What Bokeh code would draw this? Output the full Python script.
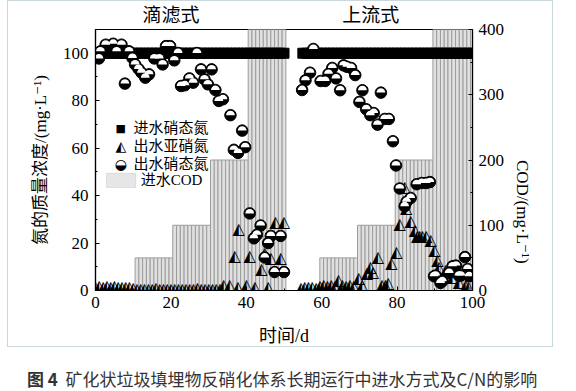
import math
from bokeh.plotting import figure
from bokeh.models import Range1d, LinearAxis, FixedTicker, Label, BoxAnnotation, ColumnDataSource, Div
from bokeh.layouts import column
from bokeh.embed import file_html
from bokeh.resources import INLINE
from bokeh.core.properties import value

# ---------------- data ----------------
x_ticks = [0, 20, 40, 60, 80, 100]
x_minor = [10, 30, 50, 70, 90]
n_ticks = [0, 20, 40, 60, 80, 100]
n_minor = [10, 30, 50, 70, 90]
cod_ticks = [0, 100, 200, 300, 400]
cod_minor = [50, 150, 250, 350]

# influent nitrate (mg/L)
in_day = [0, 1, 2, 3, 4, 5, 6, 7, 8, 9, 10, 11, 12, 13, 14, 15, 16, 17, 18, 19, 20,
          21, 22, 23, 24, 25, 26, 27, 28, 29, 30, 31, 32, 33, 34, 35, 36, 37, 38, 39, 40,
          41, 42, 43, 44, 45, 46, 47, 48, 49, 50,
          55, 56, 57, 58, 59, 60, 61, 62, 63, 64, 65, 66, 67, 68, 69, 70, 71, 72, 73, 74,
          75, 76, 77, 78, 79, 80, 81, 82, 83, 84, 85, 86, 87, 88, 89, 90, 91, 92, 93, 94,
          95, 96, 97, 98, 99, 100]
in_no3 = [100, 100, 100, 100, 100, 100, 100, 100, 100, 100, 100, 100, 100, 100, 100, 100, 100, 100, 100, 100, 100,
          100, 100, 100, 100, 100, 100, 100, 100, 100, 100, 100, 100, 100, 100, 100, 100, 100, 100, 100, 100,
          100, 100, 100, 100, 100, 100, 100, 100, 100, 100,
          100, 100, 100, 100, 100, 100, 100, 100, 100, 100, 100, 100, 100, 100, 100, 100, 100, 100, 100, 100,
          100, 100, 100, 100, 100, 100, 100, 100, 100, 100, 100, 100, 100, 100, 100, 100, 100, 100, 100, 100,
          100, 100, 100, 100, 100, 100]

# effluent nitrite (mg/L)
no2_day = [0, 1, 2, 3, 4, 5, 6, 7, 8, 9, 10, 11, 12, 13, 14, 15, 16, 17, 18, 19, 20,
           21, 22, 23, 24, 25, 26, 27, 28, 29, 30, 31, 32, 33,
           34.0, 35.6, 36.9, 37.8, 38.0, 40.0, 40.9, 42.3, 44.0, 44.9, 45.8, 46.5, 47.7, 49.1, 50.0,
           54.5, 55.5, 56.5, 57.5, 58.5, 59.5, 60.5, 61.5, 62.5, 63.5, 64.4, 65.5, 66.5, 67.5, 68.5,
           69.8, 70.7, 72.0, 72.9, 73.6, 74.9, 76.0, 76.9, 77.6, 78.5, 79.8, 80.7, 82.0, 82.4, 83.6,
           84.7, 85.3, 86.0, 86.7, 87.7, 88.9, 89.9, 90.7, 91.1, 92.9, 94.7, 96.4, 98.2, 99.0]
no2_val = [1.8, 2.0, 1.6, 2.0, 1.7, 1.9, 1.6, 1.8, 1.5, 1.7, 1.4, 0.9, 1.0, 0.8, 1.0, 0.9, 1.1, 0.8, 1.0, 0.9, 1.0,
           0.8, 1.0, 0.9, 0.8, 1.0, 0.9, 1.1, 0.8, 1.0, 0.9, 1.0, 0.8, 1.0,
           2.5, 2.5, 14.6, 1.8, 26.2, 2.5, 14.6, 1.8, 9.1, 16.0, 1.8, 13.7, 29.0, 13.7, 29.0,
           1.2, 1.5, 1.5, 1.5, 1.2, 2.0, 2.5, 2.0, 2.5, 2.0, 4.6, 2.5, 2.0, 2.5, 2.0,
           5.3, 2.5, 7.4, 10.2, 8.0, 14.4, 2.5, 2.5, 3.2, 11.6, 16.5, 28.3, 43.9, 35.0, 29.7,
           25.5, 23.0, 23.0, 23.0, 23.0, 21.3, 17.4, 13.0, 10.2, 8.8, 6.0, 3.9, 2.5, 1.5]

# effluent nitrate (mg/L)
no3_day = [0.9, 1.3, 2.7, 4.7, 5.6, 6.9, 7.8, 8.9, 9.8, 10.5, 11.4, 12.2, 13.2, 14.2, 15.6,
           16.9, 17.8, 18.7, 19.8, 20.9, 21.9, 22.7, 23.7, 24.9, 25.9, 26.9, 28.0, 28.9, 29.8,
           30.8, 31.8, 32.7, 33.8, 35.8, 36.7, 37.8, 38.9, 39.7,
           40.9, 42.0, 42.8, 43.8, 44.9, 45.8, 46.5, 47.5, 49.1, 50.0,
           54.8, 55.7, 56.9, 57.8, 59.7, 60.9, 61.8, 62.8, 63.8, 64.9, 65.8, 66.7, 67.8, 68.9,
           70.0, 70.8, 71.8, 72.9, 73.8, 74.8, 75.7, 76.7, 77.8, 78.9, 79.7, 80.7, 82.0, 82.5,
           83.6, 85.2, 86.5, 87.7, 88.7,
           89.8, 90.2, 91.5, 92.0, 93.8, 94.7, 95.6, 96.4, 96.9, 98.0, 98.7, 99.1]
no3_val = [97.8, 100.8, 103.6, 104.0, 100.8, 103.6, 87.2, 100.8, 98.0, 95.3, 93.4, 91.8, 89.7, 91.1, 97.8,
           97.8, 95.3, 103.0, 103.0, 97.0, 100.1, 86.2, 86.5, 89.4, 87.6, 100.1, 93.2, 89.0, 86.9,
           93.2, 84.5, 79.9, 80.6, 73.9, 59.3, 58.0, 67.4, 60.4,
           32.5, 22.0, 23.5, 27.4, 13.9, 20.0, 23.0, 7.8, 23.0, 7.8,
           84.5, 88.6, 91.8, 101.8, 88.3, 88.3, 91.3, 93.8, 89.4, 84.4, 94.9, 94.3, 93.8, 90.8,
           79.5, 84.4, 76.4, 73.9, 74.8, 69.9, 83.4, 72.3, 72.3, 62.9, 52.7, 43.0, 35.5, 37.4,
           39.0, 44.8, 45.3, 45.3, 45.7,
           6.0, 6.3, 3.2, 3.9, 7.4, 10.2, 10.5, 6.3, 6.3, 14.1, 9.1, 6.0]

# influent COD (mg/L), one bar per day
cod_day = [11, 12, 13, 14, 15, 16, 17, 18, 19, 20,
           21, 22, 23, 24, 25, 26, 27, 28, 29, 30,
           31, 32, 33, 34, 35, 36, 37, 38, 39, 40,
           41, 42, 43, 44, 45, 46, 47, 48, 49, 50,
           60, 61, 62, 63, 64, 65, 66, 67, 68, 69,
           70, 71, 72, 73, 74, 75, 76, 77, 78, 79,
           80, 81, 82, 83, 84, 85, 86, 87, 88, 89,
           90, 91, 92, 93, 94, 95, 96, 97, 98, 99, 100]
cod_val = [50, 50, 50, 50, 50, 50, 50, 50, 50, 50,
           100, 100, 100, 100, 100, 100, 100, 100, 100, 100,
           200, 200, 200, 200, 200, 200, 200, 200, 200, 200,
           400, 400, 400, 400, 400, 400, 400, 400, 400, 400,
           50, 50, 50, 50, 50, 50, 50, 50, 50, 50,
           100, 100, 100, 100, 100, 100, 100, 100, 100, 100,
           200, 200, 200, 200, 200, 200, 200, 200, 200, 200,
           400, 400, 400, 400, 400, 400, 400, 400, 400, 400, 400]

stage_pos = [20, 73]
stage_names = ["滴滤式", "上流式"]
legend_names = ["进水硝态氮", "出水亚硝氮", "出水硝态氮", "进水COD"]
caption_num = "图 4"
caption_text = "矿化状垃圾填埋物反硝化体系长期运行中进水方式及C/N的影响"

# ---------------- figure ----------------
SERIF = "'Liberation Serif', 'DejaVu Serif', 'Noto Sans CJK SC'"
SYM = "'DejaVu Sans'"
NBSP = "\u00a0"

p = figure(width=546, height=347, output_backend="svg", toolbar_location=None,
           x_range=Range1d(0, 100), y_range=Range1d(0, 110),
           min_border_left=87, min_border_right=82, min_border_top=27, min_border_bottom=55)
p.styles = {"border": "1px solid #c8d8dc", "margin-left": "7px", "margin-top": "0px",
            "box-sizing": "border-box"}
p.extra_y_ranges = {"cod": Range1d(0, 400)}
p.grid.visible = False
p.outline_line_color = "black"
p.outline_line_width = 1.2
p.background_fill_color = "white"
p.border_fill_color = "white"

def style_axis(ax, standoff):
    ax.axis_line_color = "black"
    ax.axis_line_width = 1.2
    ax.major_tick_in = 4
    ax.major_tick_out = 0
    ax.minor_tick_in = 2
    ax.minor_tick_out = 0
    ax.major_tick_line_color = "black"
    ax.minor_tick_line_color = "black"
    ax.major_label_text_font = SERIF
    ax.major_label_text_font_size = "17px"
    ax.major_label_text_color = "black"
    ax.major_label_standoff = standoff
    ax.axis_label_text_font = SERIF
    ax.axis_label_text_font_style = "normal"
    ax.axis_label_text_color = "black"

p.xaxis.ticker = FixedTicker(ticks=x_ticks, minor_ticks=x_minor)
p.yaxis.ticker = FixedTicker(ticks=n_ticks, minor_ticks=n_minor)
style_axis(p.xaxis[0], 6)
style_axis(p.yaxis[0], 7)
p.xaxis.axis_label = "时间/d"
p.xaxis.axis_label_text_font_size = "18px"
p.xaxis.axis_label_standoff = 15
p.yaxis.axis_label = "氮的质量浓度/(mg·L⁻¹)"
p.yaxis.axis_label_text_font_size = "17px"
p.yaxis.axis_label_standoff = 10

rax = LinearAxis(y_range_name="cod", ticker=FixedTicker(ticks=cod_ticks, minor_ticks=cod_minor))
style_axis(rax, 6)
rax.axis_label = "COD/(mg·L⁻¹)" + NBSP * 22
rax.axis_label_orientation = -math.pi / 2
rax.axis_label_text_font_size = "17px"
rax.axis_label_standoff = 15
p.add_layout(rax, "right")

# stage names as an axis above the frame
tax = LinearAxis(ticker=FixedTicker(ticks=stage_pos),
                 major_label_overrides={stage_pos[0]: stage_names[0], stage_pos[1]: stage_names[1]})
tax.axis_line_color = None
tax.major_tick_line_color = None
tax.minor_tick_line_color = None
tax.major_label_text_font = SERIF
tax.major_label_text_font_size = "19px"
tax.major_label_text_color = "black"
tax.major_label_standoff = -2
p.add_layout(tax, "above")

# COD bars
p.vbar(x=cod_day, top=cod_val, width=1, bottom=0, y_range_name="cod",
       fill_color="#e0e0e0", line_color="#9c9c9c", line_width=1)

# influent nitrate squares
p.scatter(x=in_day, y=in_no3, marker="square", size=10, fill_color="black", line_color="black")

# effluent nitrite: half-filled triangles
tri_src = ColumnDataSource(dict(x=no2_day, y=no2_val, t=["◭"] * len(no2_day)))
p.text(x="x", y="y", text="t", source=tri_src, text_font=value("DejaVu Sans"),
       text_font_size="16px", text_align="center", text_baseline="middle", text_color="black")

# effluent nitrate: half-filled circles
p.scatter(x=no3_day, y=no3_val, marker="circle", size=11.5, fill_color="black", line_color="black")
p.wedge(x=no3_day, y=no3_val, radius=4.4, radius_units="screen", start_angle=0, end_angle=math.pi,
        fill_color="white", line_color=None)

# ---------------- legend ----------------
def lab(x, y, text, size, font=SERIF, align="left"):
    p.add_layout(Label(x=x, y=y, text=text, text_font=font, text_font_size=size,
                       text_align=align, text_baseline="middle", text_color="black"))

lab(6.7, 68.4, "■", "11px", font=SYM, align="center")
lab(10.1, 68.4, legend_names[0], "15px")
lab(6.7, 60.8, "◭", "14px", font=SYM, align="center")
lab(10.1, 60.8, legend_names[1], "15px")
lab(6.7, 53.4, "◒", "14px", font=SYM, align="center")
lab(10.1, 53.4, legend_names[2], "15px")
p.add_layout(BoxAnnotation(left=2.9, right=10.7, bottom=43.4, top=49.4,
                           fill_color="#e6e6e6", fill_alpha=1, line_color="#b0b0b0", line_width=1))
lab(12.0, 46.4, legend_names[3], "15px")

# ---------------- caption ----------------
cap = Div(text=('<div style="font-family:\'Noto Sans CJK SC\';font-size:17px;line-height:22px;color:#333;'
                'white-space:nowrap;padding-top:16px;padding-left:22px;">'
                '<b>' + caption_num + '</b>&nbsp;&nbsp;' + caption_text + '</div>'),
          width=576, height=44)

layout = column(p, cap)
open("out.html", "w").write(file_html(layout, INLINE))
